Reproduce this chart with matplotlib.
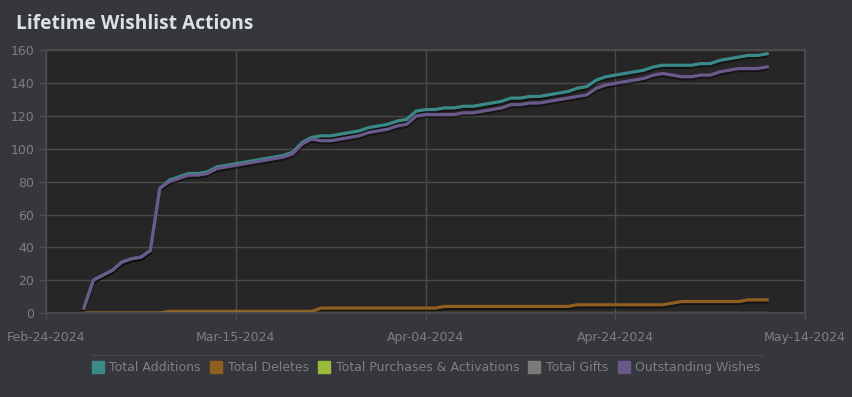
import pandas as pd
import matplotlib
matplotlib.use("Agg")
import matplotlib.pyplot as plt
import matplotlib.dates as mdates
import matplotlib.patheffects as pe
from matplotlib.lines import Line2D

# daily values, Feb-28-2024 .. May-10-2024
start_day = "2024-02-28"
additions = [3, 20, 23, 26, 31, 33, 34, 38, 76,
             81, 83, 85, 85, 86, 89, 90, 91, 92, 93,
             94, 95, 96, 98, 104, 107, 108, 108, 109, 110,
             111, 113, 114, 115, 117, 118, 123, 124, 124, 125,
             125, 126, 126, 127, 128, 129, 131, 131, 132, 132,
             133, 134, 135, 137, 138, 142, 144, 145, 146, 147,
             148, 150, 151, 151, 151, 151, 152, 152, 154, 155,
             156, 157, 157, 158]
deletes = [0] * 9 + [1] * 16 + [3] * 13 + [4] * 14 + [5] * 10 + [6] + [7] * 7 + [8] * 3
purchases = [0] * 73
gifts = [0] * 73
outstanding = [3, 20, 23, 26, 31, 33, 34, 38, 76,
               80, 82, 84, 84, 85, 88, 89, 90, 91, 92,
               93, 94, 95, 97, 103, 106, 105, 105, 106, 107,
               108, 110, 111, 112, 114, 115, 120, 121, 121, 121,
               121, 122, 122, 123, 124, 125, 127, 127, 128, 128,
               129, 130, 131, 132, 133, 137, 139, 140, 141, 142,
               143, 145, 146, 145, 144, 144, 145, 145, 147, 148,
               149, 149, 149, 150]

series_names = ["Total Additions", "Total Deletes", "Total Purchases & Activations",
                "Total Gifts", "Outstanding Wishes"]
colors = ["#3a8a89", "#8f5f1f", "#9bbb3b", "#7a7a7a", "#6a5a8c"]

days = pd.date_range(start_day, periods=len(additions), freq="D")

fig = plt.figure(figsize=(8.52, 3.97), dpi=100, facecolor="#36373c")
ax = fig.add_axes([0.054, 0.2116, 0.891, 0.6612])
ax.set_facecolor("#262626")

shadow = [pe.SimpleLineShadow(offset=(0, -1.5), shadow_color="black", alpha=0.45),
          pe.Normal()]
for vals, c in zip([additions, deletes, purchases, gifts, outstanding], colors):
    ax.plot(days, vals, color=c, lw=2.3, path_effects=shadow, solid_joinstyle="round")

ax.set_ylim(0, 160)
ax.set_yticks(range(0, 161, 20))
ax.set_xlim(pd.Timestamp("2024-02-24"), pd.Timestamp("2024-05-14"))
ax.set_xticks(pd.date_range("2024-02-24", periods=5, freq="20D"))
ax.xaxis.set_major_formatter(mdates.DateFormatter("%b-%d-%Y"))

ax.grid(True, color="#4a4a4a", lw=1)
ax.set_axisbelow(True)
for s in ax.spines.values():
    s.set_color("#4a4a4a")
    s.set_linewidth(1.5)

tick_font = "Liberation Sans Narrow"
ax.tick_params(colors="#4d4e52", length=5, width=1, labelcolor="#7d7f84",
               labelsize=9)
for lab in ax.get_xticklabels() + ax.get_yticklabels():
    lab.set_fontfamily([tick_font, "DejaVu Sans"])
ax.tick_params(axis="x", pad=8)

fig.text(0.019, 0.94, "Lifetime Wishlist Actions", color="#dce1e6",
         fontsize=13.8, fontweight="bold", family="Open Sans", va="center")

fig.add_artist(Line2D([91 / 852, 763 / 852], [0.107, 0.107], color="#45464b", lw=1))

handles = [Line2D([], [], ls="none", marker="s", markersize=8, color=c) for c in colors]
leg = fig.legend(handles, series_names, loc="center", bbox_to_anchor=(0.5, 0.074),
                 ncol=5, frameon=False, handletextpad=0.45, columnspacing=0.7,
                 handlelength=1.0,
                 prop={"family": [tick_font, "DejaVu Sans"], "size": 9})
for t in leg.get_texts():
    t.set_color("#7d7f84")

fig.savefig("out.png", dpi=100, facecolor=fig.get_facecolor())
